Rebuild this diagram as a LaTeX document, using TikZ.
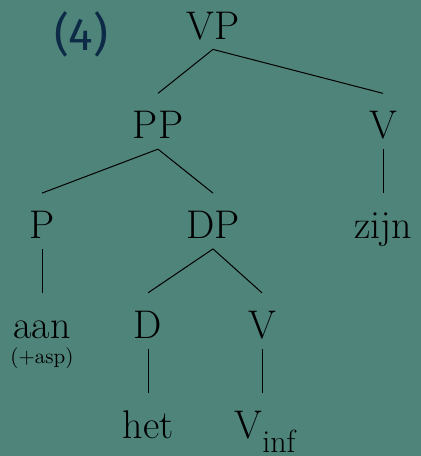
\documentclass[tikz,border=0pt]{standalone}
\usepackage{fontspec}
\usepackage{xcolor}
\usepackage{tikz}

\newfontfamily\numfont{Fira Sans}
\definecolor{slate}{HTML}{4E847A}
\definecolor{navy}{HTML}{0D2B47}

\begin{document}
\begin{tikzpicture}[x=0.5pt,y=0.5pt,
  cat/.style={font=\fontsize{20}{24}\selectfont, inner sep=0pt,
    text height=22.5pt, text depth=5pt, anchor=base},
  every child node/.style={cat},
  edge from parent/.style={draw, line width=0.5pt},
  parent anchor=south, child anchor=north,
  level distance=58.625pt,
  level 1/.style={sibling distance=55pt},
  level 2/.style={sibling distance=85.5pt},
  level 3/.style={sibling distance=57pt}]
  \fill[slate] (0,0) rectangle (421,-456);
  \useasboundingbox (0,0) rectangle (421,-456);
  \node[navy, font=\numfont\fontsize{23}{28}\selectfont, anchor=base] (ex) at (81,-50) {(4)};
  \node[cat] (vp) at (213,-39) {VP}
    child {node (pp) {PP}
      child[xshift=-15.25pt] {node (p) {P}
        child {node (aan) {aan}}
      }
      child[xshift=-15.25pt] {node (dp) {DP}
        child[xshift=-4pt] {node (d) {D}
          child {node (het) {het}}
        }
        child[xshift=-4pt] {node (v2) {V}
          % keep this edge straight under the V
          child[xshift=1.5pt, edge from parent path={(\tikzparentnode\tikzparentanchor) -- (\tikzparentnode\tikzparentanchor |- \tikzchildnode\tikzchildanchor)}]
            {node (vinf) {V\raisebox{-7pt}{\fontsize{16}{19}\selectfont inf}}}
        }
      }
    }
    child[xshift=57.5pt] {node (v1) {V}
      child {node (zijn) {zijn}}
    };
  \node[font=\fontsize{10.5}{12}\selectfont, inner sep=0pt, anchor=base] (asp) at ([yshift=-12.5pt]aan.base) {(+asp)};
\end{tikzpicture}
\end{document}
